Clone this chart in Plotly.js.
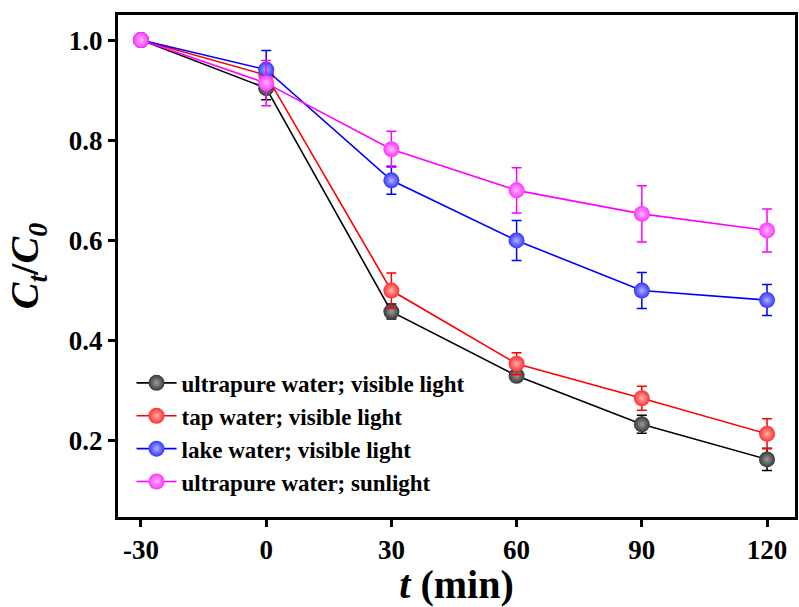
<!DOCTYPE html>
<html><head><meta charset="utf-8">
<script src="https://cdn.plot.ly/plotly-3.0.1.min.js"></script>
<style>html,body{margin:0;padding:0;background:#fff}#chart{width:799px;height:607px}</style>
</head><body><div id="chart"></div>
<script>
const time = [-30, 0, 30, 60, 90, 120];
const names = ["ultrapure water; visible light", "tap water; visible light", "lake water; visible light", "ultrapure water; sunlight"];
const ultrapureVis = [1.0, 0.904, 0.458, 0.330, 0.233, 0.163];
const ultrapureVisErr = [0, 0.023, 0.015, 0.010, 0.018, 0.022];
const tapVis = [1.0, 0.930, 0.500, 0.354, 0.285, 0.214];
const tapVisErr = [0, 0.015, 0.035, 0.022, 0.024, 0.030];
const lakeVis = [1.0, 0.941, 0.720, 0.600, 0.500, 0.481];
const lakeVisErr = [0, 0.038, 0.028, 0.040, 0.036, 0.031];
const ultrapureSun = [1.0, 0.914, 0.782, 0.700, 0.653, 0.620];
const ultrapureSunErr = [0, 0.045, 0.036, 0.045, 0.056, 0.043];
const xTicks = [-30, 0, 30, 60, 90, 120];
const yTicks = [0.2, 0.4, 0.6, 0.8, 1.0];

const series = [ultrapureVis, tapVis, lakeVis, ultrapureSun];
const errs = [ultrapureVisErr, tapVisErr, lakeVisErr, ultrapureSunErr];
const lineColors = ["#000000", "#ff0000", "#0000ff", "#ff00ff"];
const markerColors = ["#383838", "#ff3030", "#3535ff", "#ff35ff"];
const gradColors = ["#9a9a9a", "#ffb0b0", "#b0b0ff", "#ffb8ff"];

const traces = series.map((y, i) => ({
  x: time, y: y, name: names[i], type: "scatter", mode: "lines+markers",
  line: {color: lineColors[i], width: 1.6},
  marker: {size: 16, color: markerColors[i], gradient: {type: "radial", color: gradColors[i]}, line: {width: 0}},
  error_y: {type: "data", array: errs[i], visible: true, color: lineColors[i], thickness: 1.5, width: 5}
}));

const layout = {
  width: 799, height: 607,
  margin: {l: 118, r: 4, t: 15, b: 90},
  paper_bgcolor: "#fff", plot_bgcolor: "#fff",
  font: {family: "Liberation Serif", color: "#000"},
  showlegend: true,
  legend: {x: 0.02, y: 0.31, xanchor: "left", yanchor: "top", bgcolor: "rgba(0,0,0,0)",
    font: {family: "Liberation Serif", size: 23, color: "#000", weight: "bold"}, tracegroupgap: 0, itemwidth: 40},
  xaxis: {
    range: [-35.5, 126.7], tickvals: xTicks, ticktext: xTicks.map(String),
    showgrid: false, zeroline: false, showline: true, mirror: true, linecolor: "#000", linewidth: 3,
    ticks: "outside", ticklen: 7, tickwidth: 3, tickcolor: "#000",
    tickfont: {family: "Liberation Serif", size: 27, color: "#000", weight: "bold"},
    title: {text: "<i>t</i> (min)", font: {family: "Liberation Serif", size: 40, color: "#000", weight: "bold"}, standoff: 0}
  },
  yaxis: {
    range: [0.048, 1.05], tickvals: yTicks, ticktext: yTicks.map(v => v.toFixed(1)),
    showgrid: false, zeroline: false, showline: true, mirror: true, linecolor: "#000", linewidth: 3,
    ticks: "outside", ticklen: 7, tickwidth: 3, tickcolor: "#000",
    tickfont: {family: "Liberation Serif", size: 27, color: "#000", weight: "bold"},
    title: {text: "<i>C<sub>t</sub></i>/<i>C<sub>0</sub></i>", font: {family: "Liberation Serif", size: 40, color: "#000", weight: "bold"}, standoff: 18}
  }
};
Plotly.newPlot("chart", traces, layout, {displayModeBar: false});
</script></body></html>
